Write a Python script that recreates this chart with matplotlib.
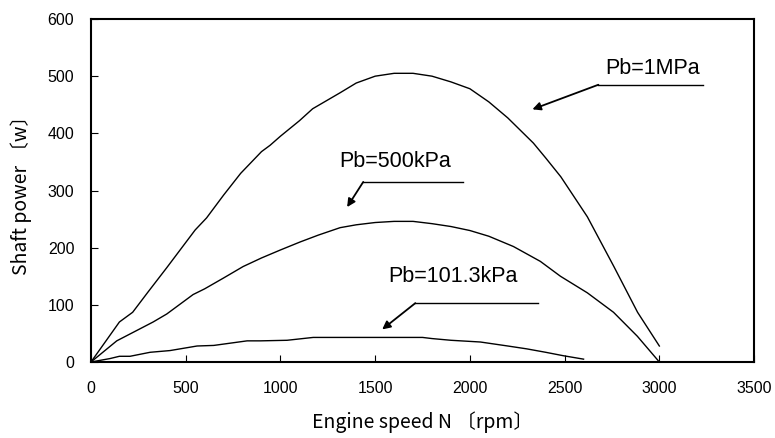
import numpy as np
import matplotlib.pyplot as plt

# engine speed [rpm] and shaft power [W] for each boost pressure
n_1mpa = [0, 150, 220, 300, 400, 500, 550, 610, 700, 790, 900, 945, 1000, 1100, 1170,
          1315, 1400, 1500, 1600, 1700, 1800, 1900, 2000, 2100, 2200, 2335, 2400,
          2480, 2620, 2760, 2885, 3000]
p_1mpa = [0, 70, 87, 122, 165, 209, 231, 252, 292, 330, 368, 379, 395, 422, 443,
          471, 488, 500, 505, 505, 500, 490, 478, 455, 427, 383, 357,
          324, 254, 167, 87, 28]

n_500 = [0, 136, 200, 328, 400, 539, 600, 700, 803, 900, 1000, 1104, 1200, 1315, 1400,
         1500, 1600, 1700, 1800, 1900, 2000, 2100, 2230, 2372, 2478, 2620, 2758, 2884, 3000]
p_500 = [0, 37, 48, 70, 84, 118, 128, 147, 167, 182, 196, 210, 222, 235, 240,
         244, 246, 246, 242, 237, 230, 220, 202, 176, 150, 121, 87, 45, 0]

n_101 = [0, 100, 150, 206, 312, 417, 560, 648, 824, 894, 1035, 1173, 1300, 1400, 1500,
         1600, 1750, 1800, 1900, 2055, 2200, 2300, 2400, 2493, 2600]
p_101 = [0, 6, 10, 10, 17, 20, 28, 29, 37, 37, 38, 43, 43, 43, 43,
         43, 43, 41, 38, 35, 28, 23, 17, 11, 5]

labels = ['Pb=1MPa', 'Pb=500kPa', 'Pb=101.3kPa']
label_xy = [(2964, 513), (1606, 351), (1912, 150)]
line_x = [(2678, 3233), (1437, 1965), (1712, 2361)]
line_y = [485, 315, 103]
arrow_tip = [(2330, 442), (1352, 271), (1537, 57)]

plt.rcParams['font.family'] = ['Liberation Sans', 'DejaVu Sans']
fig = plt.figure(figsize=(7.75, 4.38), dpi=100)
ax = fig.add_axes([0.1174, 0.1735, 0.8556, 0.7831])

for n, p in [(n_1mpa, p_1mpa), (n_500, p_500), (n_101, p_101)]:
    ax.plot(n, p, color='black', lw=1.0)

for lab, (tx, ty), (x0, x1), ly, (ax_, ay_) in zip(labels, label_xy, line_x, line_y, arrow_tip):
    ax.text(tx, ty, lab, ha='center', va='center', fontsize=15.5)
    ax.plot([x0, x1], [ly, ly], color='black', lw=1.0)
    ax.annotate('', xy=(ax_, ay_), xytext=(x0, ly),
                arrowprops=dict(arrowstyle='-|>', color='black', lw=1.3,
                                mutation_scale=12, shrinkA=0, shrinkB=0))

ax.set_xlim(0, 3500)
ax.set_ylim(0, 600)
ax.set_xticks(np.arange(0, 3501, 500))
ax.set_yticks(np.arange(0, 601, 100))
ax.tick_params(direction='in', length=5, labelsize=11.5)
ax.tick_params(axis='y', pad=12)
ax.tick_params(axis='x', pad=14)
for s in ax.spines.values():
    s.set_linewidth(1.5)

cjk = ['Noto Sans CJK JP', 'DejaVu Sans']
ax.set_xlabel('Engine speed N 〔rpm〕', fontsize=14, family=cjk, labelpad=11)
ax.set_ylabel('Shaft power 〔w〕', fontsize=14, family=cjk, labelpad=11)

fig.savefig('out.png', dpi=100)
